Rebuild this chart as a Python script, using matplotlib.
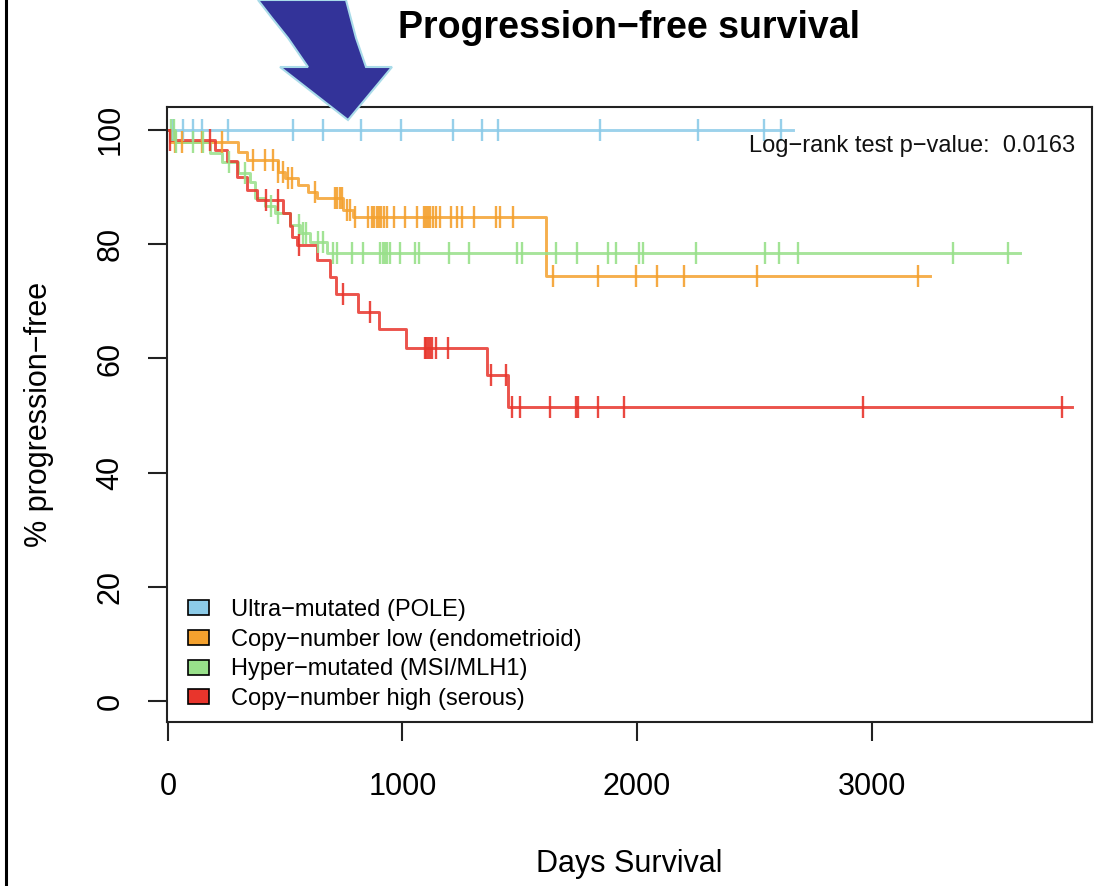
import numpy as np
import matplotlib
matplotlib.use("Agg")
import matplotlib.pyplot as plt
from matplotlib.patches import Patch, Polygon
from matplotlib.lines import Line2D

plt.rcParams['font.family'] = ['Liberation Sans', 'DejaVu Sans']

# ---- data ----
groups = ["Ultra\u2212mutated (POLE)", "Copy\u2212number low (endometrioid)",
          "Hyper\u2212mutated (MSI/MLH1)", "Copy\u2212number high (serous)"]
colors = ["#8ccbe8", "#f4a12e", "#98e08a", "#e8352c"]

pole_event_days = []
pole_surv = []
pole_censor = [21, 64, 107, 145, 256, 533, 661, 823, 994, 1215, 1339, 1407,
               1842, 2260, 2542, 2614]
pole_end = 2665

cnl_event_days = [9, 299, 337, 469, 499, 554, 597, 635, 746, 789, 1612]
cnl_surv = [97.9, 96.2, 94.8, 92.7, 91.6, 90.4, 89.2, 88.1, 86.0, 84.8, 74.5]
cnl_censor = [30, 60, 145, 230, 362, 414, 450, 470, 490, 510, 530, 627, 712,
              722, 732, 742, 763, 776, 797, 853, 870, 880, 890, 900, 910, 920,
              934, 964, 1011, 1062, 1092, 1100, 1108, 1117, 1130, 1143, 1160,
              1207, 1232, 1254, 1305, 1399, 1416, 1471, 1642, 1834, 1996,
              2086, 2200, 2512, 3198]
cnl_end = 3250

msi_event_days = [30, 179, 230, 299, 350, 371, 414, 456, 520, 563, 606, 678]
msi_surv = [97.9, 96.0, 94.4, 92.5, 90.9, 88.1, 86.6, 85.5, 83.4, 82.0, 80.3, 78.5]
msi_censor = [15, 25, 35, 107, 150, 260, 330, 440, 470, 560, 575, 590, 640,
              660, 704, 721, 785, 832, 905, 915, 925, 935, 945, 989, 1053,
              1070, 1198, 1284, 1488, 1510, 1655, 1744, 1876, 1910, 2009,
              2026, 2251, 2546, 2605, 2687, 3348, 3582]
msi_end = 3633

cnh_event_days = [9, 200, 250, 294, 337, 380, 490, 520, 530, 550, 635, 691,
                  716, 810, 900, 1015, 1360, 1450]
cnh_surv = [98.3, 96.5, 94.5, 91.8, 89.5, 87.8, 85.5, 83.1, 81.3, 79.9, 77.3,
            74.3, 71.2, 68.2, 65.1, 61.8, 57.1, 51.5]
cnh_censor = [10, 180, 420, 470, 560, 746, 861, 1094, 1102, 1110, 1118, 1126,
              1141, 1194, 1376, 1440, 1469, 1499, 1630, 1740, 1750, 1833,
              1945, 2964, 3812]
cnh_end = 3855

pvalue_text = "Log\u2212rank test p\u2212value:  0.0163"

series = [
    (pole_event_days, pole_surv, pole_censor, pole_end),
    (cnl_event_days, cnl_surv, cnl_censor, cnl_end),
    (msi_event_days, msi_surv, msi_censor, msi_end),
    (cnh_event_days, cnh_surv, cnh_censor, cnh_end),
]

W, H = 1105, 886
fig = plt.figure(figsize=(W / 100, H / 100), dpi=100)
ax = fig.add_axes([167 / W, 1 - 722 / H, (1092 - 167) / W, (722 - 107) / H])

for (days, surv, cens, end), col in zip(series, colors):
    x = np.array([0] + list(days) + [end], dtype=float)
    y = np.array([100] + list(surv) + [surv[-1] if surv else 100], dtype=float)
    ax.step(x, y, where='post', color=col, lw=2.1, alpha=0.85, zorder=2)
    cx = np.array(cens, dtype=float)
    idx = np.searchsorted(x, cx, side='right') - 1
    ax.plot(cx, y[idx], ls='none', marker='|', ms=16, mew=1.7,
            color=col, alpha=0.9, zorder=3)

ax.set_xlim(-4, 3940)
ax.set_ylim(-3.6, 104)
ax.set_xticks([0, 1000, 2000, 3000])
ax.set_yticks([0, 20, 40, 60, 80, 100])
ax.tick_params(axis='both', direction='out', length=14, width=1.5,
               labelsize=22, color='#222222')
ax.tick_params(axis='x', pad=22)
ax.tick_params(axis='y', pad=16)
for lab in ax.get_yticklabels():
    lab.set_rotation(90)
    lab.set_va('center')
for s in ax.spines.values():
    s.set_linewidth(1.5)
    s.set_color('#222222')

ax.set_xlabel("Days Survival", fontsize=22, labelpad=34)
ax.set_ylabel("% progression\u2212free", fontsize=22, labelpad=30)

ax.text(0.982, 0.937, pvalue_text, transform=ax.transAxes, ha='right',
        va='center', fontsize=17, color='#111111')

handles = [Patch(facecolor=c, edgecolor='black', linewidth=1.2) for c in colors]
ax.legend(handles, groups, loc='lower left', bbox_to_anchor=(0.01, 0.0),
          frameon=False, fontsize=17, handlelength=0.9, handleheight=0.6,
          handletextpad=0.9, labelspacing=0.33, borderaxespad=0.1)

fig.text((167 + 1092) / 2 / W, 1 - 28 / H, "Progression\u2212free survival",
         ha='center', va='center', fontsize=27, fontweight='bold')

# outer frame line at the left edge
fig.add_artist(Line2D([6 / W, 6 / W], [0, 1], color='black', lw=2.2,
                      transform=fig.transFigure))

# big curved arrow pointing at the POLE curve
arrow_px = [(258, 0), (272, 18), (288, 38), (308, 67), (280, 67), (348, 120),
            (392, 67), (366, 67), (356, 38), (346, 0)]
arrow_fig = [(px / W, 1 - py / H) for px, py in arrow_px]
fig.add_artist(Polygon(arrow_fig, closed=True, facecolor='#333399',
                       edgecolor='#a9dbe9', lw=1.5,
                       transform=fig.transFigure, zorder=10))

fig.savefig("out.png", dpi=100)
